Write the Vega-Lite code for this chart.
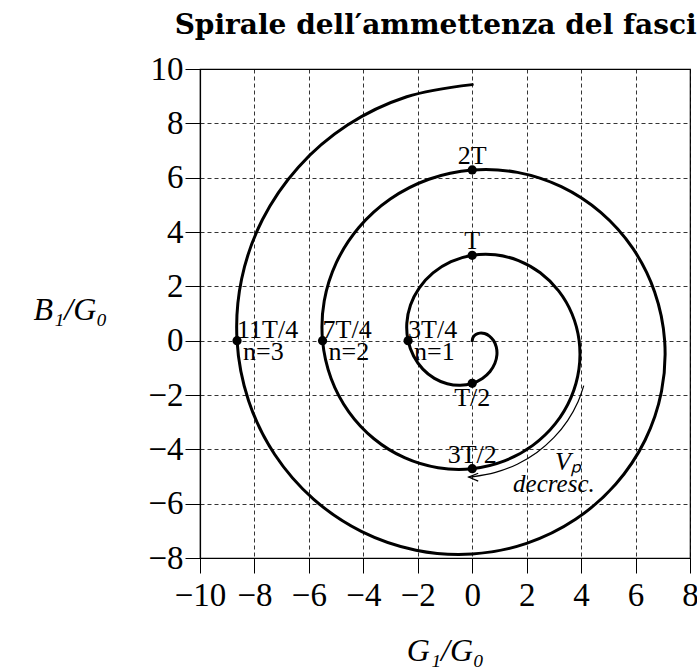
{
  "$schema": "https://vega.github.io/schema/vega-lite/v6.json",
  "width": 490,
  "height": 489,
  "autosize": {"type": "none"},
  "padding": {"left": 200, "top": 69, "right": 7, "bottom": 113},
  "background": "white",
  "title": {
    "text": "Spirale dell′ammettenza del fascio",
    "font": "DejaVu Serif",
    "fontSize": 28,
    "fontWeight": "bold",
    "color": "black",
    "anchor": "middle",
    "offset": 13
  },
  "config": {
    "view": {"stroke": "black", "strokeWidth": 1.2},
    "axis": {
      "grid": true,
      "gridColor": "black",
      "gridDash": [4, 3],
      "gridWidth": 0.8,
      "gridOpacity": 1,
      "domainColor": "black",
      "domainWidth": 1.2,
      "tickColor": "black",
      "tickWidth": 1,
      "tickSize": 15,
      "labelFont": "Liberation Serif",
      "labelFontSize": 33,
      "labelColor": "black",
      "labelFlush": false,
      "labelOverlap": false,
      "titleFont": "Liberation Serif",
      "titleFontSize": 32,
      "titleFontStyle": "italic",
      "titleFontWeight": "normal",
      "titleColor": "black"
    }
  },
  "encoding": {
    "x": {
      "field": "x",
      "type": "quantitative",
      "scale": {"domain": [-10, 8], "nice": false, "zero": false},
      "axis": {
        "title": "G₁/G₀",
        "values": [-10, -8, -6, -4, -2, 0, 2, 4, 6, 8],
        "labelPadding": 6,
        "titleY": 92,
        "titleBaseline": "middle"
      }
    },
    "y": {
      "field": "y",
      "type": "quantitative",
      "scale": {"domain": [-8, 10], "nice": false, "zero": false},
      "axis": {
        "title": "B₁/G₀",
        "values": [-8, -6, -4, -2, 0, 2, 4, 6, 8, 10],
        "labelPadding": 2,
        "titleAngle": 0,
        "titleX": -130,
        "titleY": 240,
        "titleAlign": "center",
        "titleBaseline": "middle"
      }
    }
  },
  "layer": [
    {
      "data": {
        "values": [
          {"k": 0, "x": 0, "y": 0},
          {"k": 1, "x": 0.0339, "y": 0.1264},
          {"k": 2, "x": 0.1309, "y": 0.2267},
          {"k": 3, "x": 0.2777, "y": 0.2777},
          {"k": 4, "x": 0.4534, "y": 0.2618},
          {"k": 5, "x": 0.6322, "y": 0.1694},
          {"k": 6, "x": 0.7854, "y": 0},
          {"k": 7, "x": 0.8851, "y": -0.2371},
          {"k": 8, "x": 0.9069, "y": -0.5236},
          {"k": 9, "x": 0.833, "y": -0.833},
          {"k": 10, "x": 0.6545, "y": -1.1336},
          {"k": 11, "x": 0.3726, "y": -1.3908},
          {"k": 12, "x": 0, "y": -1.5708},
          {"k": 13, "x": -0.4404, "y": -1.6437},
          {"k": 14, "x": -0.9163, "y": -1.587},
          {"k": 15, "x": -1.3884, "y": -1.3884},
          {"k": 16, "x": -1.8138, "y": -1.0472},
          {"k": 17, "x": -2.1494, "y": -0.5759},
          {"k": 18, "x": -2.3562, "y": 0},
          {"k": 19, "x": -2.4023, "y": 0.6437},
          {"k": 20, "x": -2.2672, "y": 1.309},
          {"k": 21, "x": -1.9438, "y": 1.9438},
          {"k": 22, "x": -1.4399, "y": 2.4939},
          {"k": 23, "x": -0.7792, "y": 2.908},
          {"k": 24, "x": 0, "y": 3.1416},
          {"k": 25, "x": 0.8469, "y": 3.1609},
          {"k": 26, "x": 1.7017, "y": 2.9473},
          {"k": 27, "x": 2.4991, "y": 2.4991},
          {"k": 28, "x": 3.1741, "y": 1.8326},
          {"k": 29, "x": 3.6667, "y": 0.9824},
          {"k": 30, "x": 3.927, "y": 0},
          {"k": 31, "x": 3.9195, "y": -1.0502},
          {"k": 32, "x": 3.6275, "y": -2.0944},
          {"k": 33, "x": 3.0545, "y": -3.0545},
          {"k": 34, "x": 2.2253, "y": -3.8542},
          {"k": 35, "x": 1.1857, "y": -4.4253},
          {"k": 36, "x": 0, "y": -4.7124},
          {"k": 37, "x": -1.2534, "y": -4.6781},
          {"k": 38, "x": -2.4871, "y": -4.3077},
          {"k": 39, "x": -3.6098, "y": -3.6098},
          {"k": 40, "x": -4.5344, "y": -2.618},
          {"k": 41, "x": -5.1839, "y": -1.389},
          {"k": 42, "x": -5.4978, "y": 0},
          {"k": 43, "x": -5.4368, "y": 1.4567},
          {"k": 44, "x": -4.9878, "y": 2.8798},
          {"k": 45, "x": -4.1652, "y": 4.1652},
          {"k": 46, "x": -3.0107, "y": 5.2145},
          {"k": 47, "x": -1.5922, "y": 5.9425},
          {"k": 48, "x": 0, "y": 6.2832},
          {"k": 49, "x": 1.66, "y": 6.1954},
          {"k": 50, "x": 3.2725, "y": 5.668},
          {"k": 51, "x": 4.7205, "y": 4.7205},
          {"k": 52, "x": 5.8947, "y": 3.4034},
          {"k": 53, "x": 6.7011, "y": 1.7955},
          {"k": 54, "x": 7.0686, "y": 0},
          {"k": 55, "x": 6.954, "y": -1.8632},
          {"k": 56, "x": 6.3481, "y": -3.6652},
          {"k": 57, "x": 5.2759, "y": -5.2759},
          {"k": 58, "x": 3.7961, "y": -6.5748},
          {"k": 59, "x": 1.9987, "y": -7.4597},
          {"k": 60, "x": 0, "y": -7.854},
          {"k": 61, "x": -2.0665, "y": -7.7126},
          {"k": 62, "x": -4.0579, "y": -7.0283},
          {"k": 63, "x": -5.8312, "y": -5.8312},
          {"k": 64, "x": -7.255, "y": -4.1888},
          {"k": 65, "x": -8.2184, "y": -2.202},
          {"k": 66, "x": -8.6394, "y": 0},
          {"k": 67, "x": -8.4712, "y": 2.2697},
          {"k": 68, "x": -7.7084, "y": 4.4506},
          {"k": 69, "x": -6.3866, "y": 6.3866},
          {"k": 70, "x": -4.5815, "y": 7.9352},
          {"k": 71, "x": -2.4053, "y": 8.977},
          {"k": 72, "x": 0, "y": 9.4248}
        ]
      },
      "mark": {"type": "line", "color": "black", "strokeWidth": 3, "interpolate": "catmull-rom", "strokeCap": "round", "strokeJoin": "round"},
      "encoding": {"order": {"field": "k", "type": "quantitative"}}
    },
    {
      "data": {
        "values": [
          {"k": 0, "x": 4.097, "y": -1.655},
          {"k": 1, "x": 3.887, "y": -2.244},
          {"k": 2, "x": 3.505, "y": -2.941},
          {"k": 3, "x": 2.997, "y": -3.572},
          {"k": 4, "x": 2.375, "y": -4.114},
          {"k": 5, "x": 1.655, "y": -4.546},
          {"k": 6, "x": 0.855, "y": -4.85},
          {"k": 7, "x": 0, "y": -5.012},
          {"k": 8, "x": -0.132, "y": -5.023}
        ]
      },
      "mark": {"type": "line", "color": "black", "strokeWidth": 1.2, "interpolate": "catmull-rom"},
      "encoding": {"order": {"field": "k", "type": "quantitative"}}
    },
    {
      "data": {
        "values": [
          {"k": 0, "x": 0.22, "y": -4.88},
          {"k": 1, "x": -0.132, "y": -5.023},
          {"k": 2, "x": 0.22, "y": -5.17}
        ]
      },
      "mark": {"type": "line", "color": "black", "strokeWidth": 1.2},
      "encoding": {"order": {"field": "k", "type": "quantitative"}}
    },
    {
      "data": {
        "values": [
          {"x": 0, "y": -1.5708},
          {"x": -2.3562, "y": 0},
          {"x": 0, "y": 3.1416},
          {"x": 0, "y": -4.7124},
          {"x": -5.4978, "y": 0},
          {"x": 0, "y": 6.2832},
          {"x": -8.6394, "y": 0}
        ]
      },
      "mark": {"type": "point", "filled": true, "color": "black", "opacity": 1, "size": 85}
    },
    {
      "data": {
        "values": [
          {"x": 0, "y": 3.1416, "label": "T"},
          {"x": 0, "y": 6.2832, "label": "2T"},
          {"x": 0, "y": -4.7124, "label": "3T/2"}
        ]
      },
      "mark": {"type": "text", "font": "Liberation Serif", "fontSize": 26, "color": "black", "align": "center", "baseline": "alphabetic", "dy": -6},
      "encoding": {"text": {"field": "label"}}
    },
    {
      "data": {"values": [{"x": 0, "y": -1.5708, "label": "T/2"}]},
      "mark": {"type": "text", "font": "Liberation Serif", "fontSize": 26, "color": "black", "align": "center", "baseline": "top", "dy": 2},
      "encoding": {"text": {"field": "label"}}
    },
    {
      "data": {
        "values": [
          {"x": -8.6394, "y": 0, "label": "11T/4"},
          {"x": -5.4978, "y": 0, "label": "7T/4"},
          {"x": -2.3562, "y": 0, "label": "3T/4"}
        ]
      },
      "mark": {"type": "text", "font": "Liberation Serif", "fontSize": 26, "color": "black", "align": "left", "baseline": "alphabetic", "dx": 0, "dy": -3},
      "encoding": {"text": {"field": "label"}}
    },
    {
      "data": {
        "values": [
          {"x": -8.6394, "y": 0, "label": "n=3"},
          {"x": -5.4978, "y": 0, "label": "n=2"},
          {"x": -2.3562, "y": 0, "label": "n=1"}
        ]
      },
      "mark": {"type": "text", "font": "Liberation Serif", "fontSize": 26, "color": "black", "align": "left", "baseline": "top", "dx": 6, "dy": -2},
      "encoding": {"text": {"field": "label"}}
    },
    {
      "data": {"values": [{"x": 3.04, "y": -4.77, "label": "Vₚ"}]},
      "mark": {"type": "text", "font": "Liberation Serif", "fontSize": 26, "fontStyle": "italic", "color": "black", "align": "left", "baseline": "alphabetic"},
      "encoding": {"text": {"field": "label"}}
    },
    {
      "data": {"values": [{"x": 3.0, "y": -5.58, "label": "decresc."}]},
      "mark": {"type": "text", "font": "Liberation Serif", "fontSize": 25, "fontStyle": "italic", "color": "black", "align": "center", "baseline": "alphabetic"},
      "encoding": {"text": {"field": "label"}}
    }
  ]
}
